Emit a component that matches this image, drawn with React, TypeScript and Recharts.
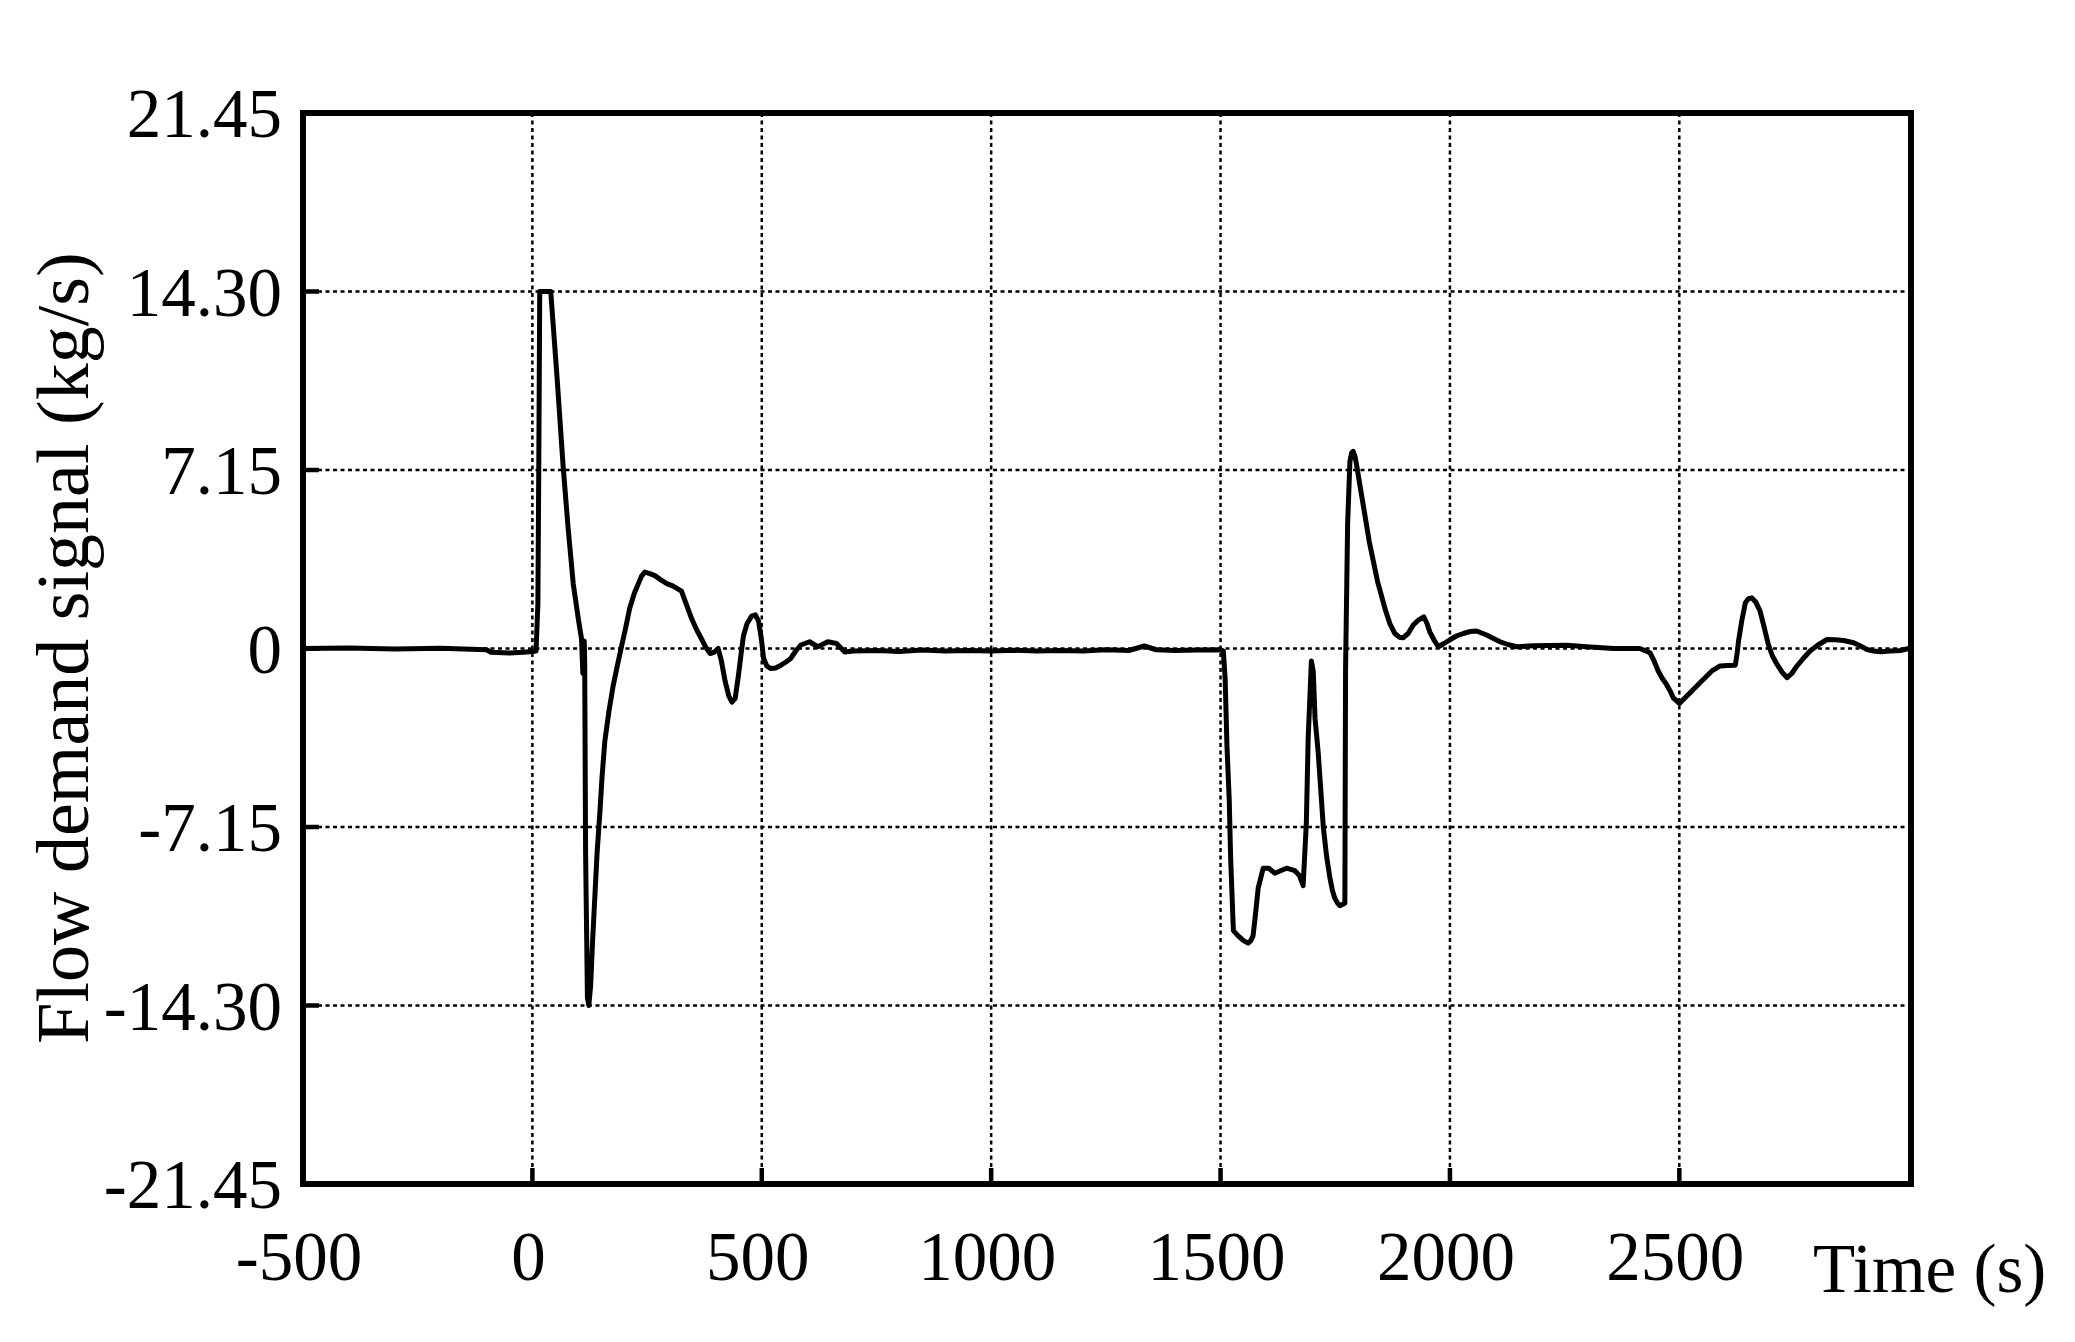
import React from "react";
import { LineChart, Line, XAxis, YAxis, CartesianGrid, ReferenceArea } from "recharts";

// Time (s)
const timeSeconds = [
  -500, -400, -300, -200, -100, -90, -50, -20, 0, 8, 12, 14, 16, 40, 54, 67, 78, 89, 100, 107, 110, 113, 114, 116, 120, 123,
  127, 131, 136, 141, 147, 152, 158, 167, 176, 185, 194, 203, 212, 222, 231, 238, 245, 256, 267, 280, 293, 307, 325, 336,
  347, 358, 369, 378, 387, 396, 405, 412, 420, 428, 435, 442, 449, 455, 460, 468, 478, 486, 493, 499, 504, 511, 519, 530,
  541, 552, 563, 574, 585, 604, 622, 644, 663, 681, 700, 750, 800, 850, 900, 950, 1000, 1050, 1100, 1150, 1200, 1250, 1300,
  1334, 1360, 1400, 1450, 1500, 1506, 1510, 1514, 1519, 1522, 1528, 1538, 1550, 1560, 1566, 1571, 1577, 1582, 1593, 1605,
  1618, 1631, 1644, 1662, 1672, 1680, 1687, 1691, 1698, 1702, 1706, 1713, 1724, 1731, 1738, 1744, 1749, 1755, 1760, 1771,
  1772.5, 1777, 1782, 1786, 1789, 1793, 1797, 1806, 1815, 1824, 1833, 1842, 1851, 1860, 1869, 1880, 1890, 1898, 1909, 1920,
  1932, 1943, 1950, 1956, 1965, 1975, 1987, 2000, 2014, 2029, 2044, 2058, 2080, 2095, 2109, 2128, 2146, 2182, 2255, 2298,
  2357, 2414, 2436, 2445, 2454, 2463, 2472, 2480, 2487, 2494, 2500, 2511, 2523, 2545, 2571, 2589, 2605, 2622, 2626, 2629,
  2636, 2644, 2651, 2658, 2667, 2676, 2685, 2694, 2703, 2713, 2724, 2735, 2745, 2756, 2770, 2785, 2803, 2822, 2840, 2858,
  2880, 2895, 2909, 2923, 2938, 2960, 2982, 3000,
];

// Flow demand signal (kg/s)
const flowDemand = [
  0, 0.02, -0.02, 0.01, -0.05, -0.15, -0.18, -0.15, -0.12, -0.1, 1.8, 7.5, 14.3, 14.3, 10.8, 7.3, 4.8, 2.6, 1.2, 0.4, -1.0,
  0.3, -0.5, -8.2, -14.0, -14.3, -13.5, -11.8, -10.0, -8.2, -6.6, -5.1, -3.7, -2.5, -1.5, -0.7, 0.06, 0.8, 1.6, 2.2, 2.6,
  2.9, 3.06, 3.0, 2.92, 2.75, 2.6, 2.5, 2.3, 1.75, 1.2, 0.75, 0.37, 0.05, -0.2, -0.15, 0, -0.5, -1.3, -1.9, -2.15, -2.0,
  -1.1, -0.2, 0.5, 1.0, 1.3, 1.35, 1.1, 0.4, -0.4, -0.7, -0.8, -0.78, -0.68, -0.55, -0.4, -0.1, 0.14, 0.27, 0.07, 0.27,
  0.2, -0.14, -0.1, -0.08, -0.12, -0.06, -0.1, -0.08, -0.1, -0.07, -0.1, -0.08, -0.1, -0.05, -0.08, 0.1, -0.05, -0.08,
  -0.06, -0.05, -0.1, -1.2, -3.9, -6.1, -8.4, -11.3, -11.5, -11.7, -11.8, -11.7, -11.5, -10.5, -9.6, -8.8, -8.8, -9.0,
  -8.9, -8.8, -8.9, -9.1, -9.5, -7.0, -3.6, -0.5, -0.9, -2.8, -4.2, -7.15, -8.3, -9.15, -9.7, -10.0, -10.2, -10.3, -10.2,
  -0.85, 5.0, 7.5, 7.85, 7.9, 7.7, 7.3, 6.3, 5.3, 4.3, 3.5, 2.7, 2.1, 1.5, 1.0, 0.6, 0.45, 0.43, 0.6, 0.94, 1.15, 1.27,
  1.0, 0.67, 0.35, 0.07, 0.2, 0.35, 0.5, 0.6, 0.68, 0.7, 0.54, 0.4, 0.27, 0.15, 0.07, 0.11, 0.13, 0.07, 0.0, 0.0, -0.17,
  -0.5, -0.9, -1.2, -1.44, -1.7, -1.98, -2.1, -2.2, -2.0, -1.78, -1.37, -0.9, -0.7, -0.68, -0.67, -0.2, 0.29, 1.1, 1.83,
  2.0, 2.03, 1.85, 1.5, 0.85, 0.16, -0.3, -0.64, -0.95, -1.17, -1.0, -0.71, -0.4, -0.1, 0.15, 0.36, 0.35, 0.32, 0.23, 0.1,
  -0.04, -0.1, -0.13, -0.1, -0.08, 0,
];

const xTicks = [-500, 0, 500, 1000, 1500, 2000, 2500];
const xTickLabels = ["-500", "0", "500", "1000", "1500", "2000", "2500"];
const yTicks = [21.45, 14.3, 7.15, 0, -7.15, -14.3, -21.45];
const yTickLabels = ["21.45", "14.30", "7.15", "0", "-7.15", "-14.30", "-21.45"];

const X_DOMAIN: [number, number] = [-500, 3005];
const Y_DOMAIN: [number, number] = [-21.45, 21.45];

const data = timeSeconds.map((t, i) => ({ t, v: flowDemand[i] }));

const W = 2055;
const H = 1320;
const FONT = '"Liberation Serif", "Times New Roman", serif';
const TICK_LEN = 16;

const labelFor = (ticks: number[], labels: string[], v: number) => {
  const i = ticks.findIndex((t) => Math.abs(t - v) < 1e-6);
  return i >= 0 ? labels[i] : String(v);
};

const BottomTick = (props: any) => {
  const { x, y, payload } = props;
  return (
    <g>
      <line x1={x} y1={y} x2={x} y2={y - TICK_LEN} stroke="#000" strokeWidth={4.5} />
      <text x={x - 4} y={y + 96} textAnchor="middle" fontFamily={FONT} fontSize={69} fill="#000">
        {labelFor(xTicks, xTickLabels, payload.value)}
      </text>
    </g>
  );
};

const TopTick = (props: any) => {
  const { x, y } = props;
  return <line x1={x} y1={y} x2={x} y2={y + TICK_LEN} stroke="#000" strokeWidth={4.5} />;
};

const LeftTick = (props: any) => {
  const { x, y, payload } = props;
  return (
    <g>
      <line x1={x} y1={y} x2={x + TICK_LEN} y2={y} stroke="#000" strokeWidth={4.5} />
      <text x={x - 21} y={y + 24} textAnchor="end" fontFamily={FONT} fontSize={69} fill="#000">
        {labelFor(yTicks, yTickLabels, payload.value)}
      </text>
    </g>
  );
};

const RightTick = (props: any) => {
  const { x, y } = props;
  return <line x1={x} y1={y} x2={x - TICK_LEN} y2={y} stroke="#000" strokeWidth={4.5} />;
};

export default function App() {
  return (
    <div style={{ position: "relative", width: W, height: H, background: "#fff" }}>
      <LineChart width={W} height={H} data={data} margin={{ top: 105, right: 152, bottom: 44, left: 0 }}>
        <CartesianGrid
          stroke="#000"
          strokeWidth={2.5}
          strokeDasharray="4 3.5"
          horizontalValues={yTicks}
          verticalValues={xTicks}
        />
        <XAxis
          dataKey="t"
          type="number"
          domain={X_DOMAIN}
          ticks={xTicks}
          interval={0}
          allowDataOverflow
          height={100}
          axisLine={false}
          tickLine={false}
          tickSize={0}
          tickMargin={0}
          tick={<BottomTick />}
        />
        <XAxis
          xAxisId="top"
          orientation="top"
          dataKey="t"
          type="number"
          domain={X_DOMAIN}
          ticks={xTicks}
          interval={0}
          allowDataOverflow
          height={0}
          axisLine={false}
          tickLine={false}
          tickSize={0}
          tickMargin={0}
          tick={<TopTick />}
        />
        <YAxis
          type="number"
          domain={Y_DOMAIN}
          ticks={yTicks}
          interval={0}
          allowDataOverflow
          width={295}
          axisLine={false}
          tickLine={false}
          tickSize={0}
          tickMargin={0}
          tick={<LeftTick />}
        />
        <YAxis
          yAxisId="right"
          orientation="right"
          type="number"
          domain={Y_DOMAIN}
          ticks={yTicks}
          interval={0}
          allowDataOverflow
          width={0}
          axisLine={false}
          tickLine={false}
          tickSize={0}
          tickMargin={0}
          tick={<RightTick />}
        />
        <Line
          dataKey="v"
          type="linear"
          stroke="#000"
          strokeWidth={5}
          strokeLinejoin="round"
          strokeLinecap="round"
          dot={false}
          activeDot={false}
          isAnimationActive={false}
        />
        <ReferenceArea
          x1={X_DOMAIN[0]}
          x2={X_DOMAIN[1]}
          y1={Y_DOMAIN[0]}
          y2={Y_DOMAIN[1]}
          fill="none"
          stroke="#000"
          strokeWidth={6}
          ifOverflow="visible"
        />
      </LineChart>
      <svg
        width={W}
        height={H}
        style={{ position: "absolute", left: 0, top: 0, pointerEvents: "none" }}
      >
        <text
          x={80}
          y={640}
          transform="rotate(-90 80 640)"
          textAnchor="middle"
          fontFamily={FONT}
          fontSize={74}
          fill="#000"
        >
          Flow demand signal (kg/s)
        </text>
        <text x={1805} y={1284} fontFamily={FONT} fontSize={69} fill="#000">
          Time (s)
        </text>
      </svg>
    </div>
  );
}
